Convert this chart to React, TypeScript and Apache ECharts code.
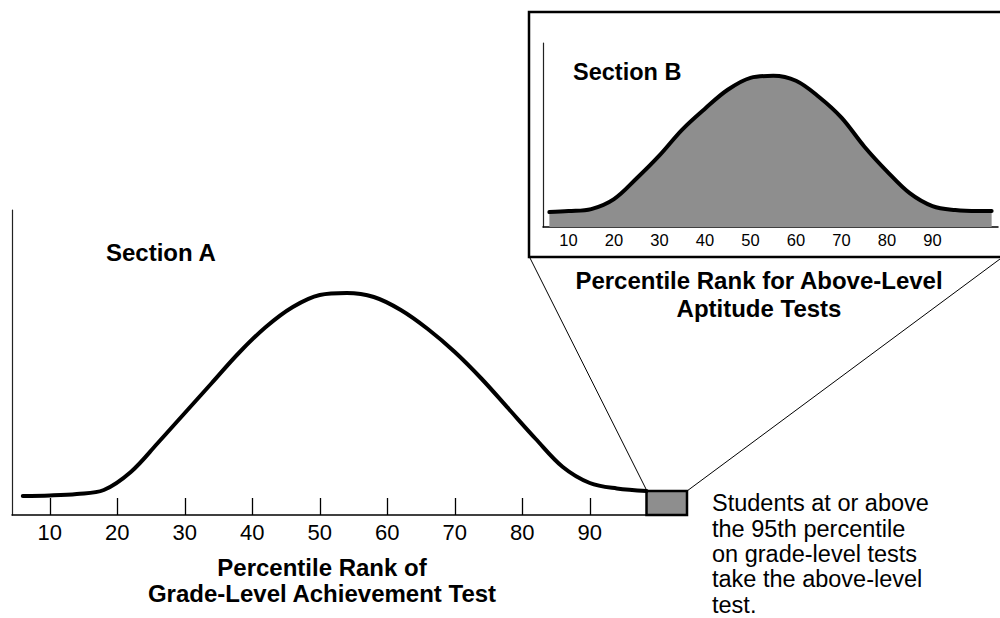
import React, { useEffect, useRef } from "react";
import * as echarts from "echarts";

// Section A: grade-level achievement test distribution (percentile rank vs. relative height)
const mainX = [6, 10, 14, 18, 22, 26, 30, 34, 38, 42, 46, 50, 54, 58, 62, 66, 70, 74, 78, 82, 86, 90, 94, 98.4];
const mainY = [19, 19.5, 21, 25, 43, 72, 102, 132, 162, 188, 208, 220, 222, 218, 205, 186, 163, 136, 106, 76, 48, 32, 26.5, 24];

// Section B: above-level aptitude test distribution
const insetX = [5.8, 10, 15, 20, 25, 30, 35, 40, 45, 50, 55, 60, 65, 70, 75, 80, 85, 90, 95, 100, 103];
const insetY = [15, 16, 18, 28, 49, 72, 98, 119, 138, 150, 152, 147, 131, 110, 81, 56, 34, 21, 17, 16, 16];

// tick labels (both axes)
const tickValues = [10, 20, 30, 40, 50, 60, 70, 80, 90];

// highlighted top segment (students at or above the cut-off)
const boxRange = [98.4, 104.4];
const boxHeight = 24;

const FONT = '"Liberation Sans", Arial, Helvetica, sans-serif';

export default function App() {
  const ref = useRef<HTMLDivElement>(null);

  useEffect(() => {
    if (!ref.current) return;
    const chart = echarts.init(ref.current, null, { renderer: "svg" });

    const mainData = mainX.map((x, i) => [x, mainY[i]]);
    const insetData = insetX.map((x, i) => [x, insetY[i]]);

    chart.setOption({
      animation: false,
      backgroundColor: "#ffffff",
      grid: [
        { left: 12, right: 313, top: 210, bottom: 103 },
        { left: 543, right: 2, top: 43, bottom: 391 },
      ],
      xAxis: [
        {
          type: "value",
          gridIndex: 0,
          min: 4.4,
          max: 104.4,
          splitLine: { show: false },
          axisLine: { show: true, lineStyle: { color: "#000", width: 1.5 } },
          axisTick: {
            show: true,
            inside: true,
            length: 17,
            customValues: tickValues,
            lineStyle: { color: "#000", width: 1.3 },
          },
          axisLabel: {
            show: true,
            customValues: tickValues,
            margin: 6,
            fontSize: 22,
            color: "#000",
            fontFamily: FONT,
          },
        },
        {
          type: "value",
          gridIndex: 1,
          min: 4.4,
          max: 104.4,
          splitLine: { show: false },
          axisLine: { show: true, lineStyle: { color: "#000", width: 1.5 } },
          axisTick: {
            show: true,
            inside: true,
            length: 12,
            customValues: tickValues,
            lineStyle: { color: "#000", width: 1.3 },
          },
          axisLabel: {
            show: true,
            customValues: tickValues,
            margin: 4,
            fontSize: 16.5,
            color: "#000",
            fontFamily: FONT,
          },
        },
      ],
      yAxis: [
        {
          type: "value",
          gridIndex: 0,
          min: 0,
          max: 305,
          splitLine: { show: false },
          axisLine: { show: true, lineStyle: { color: "#222", width: 1.2 } },
          axisTick: { show: false },
          axisLabel: { show: false },
        },
        {
          type: "value",
          gridIndex: 1,
          min: 0,
          max: 185,
          splitLine: { show: false },
          axisLine: { show: true, lineStyle: { color: "#222", width: 1.2 } },
          axisTick: { show: false },
          axisLabel: { show: false },
        },
      ],
      series: [
        {
          type: "line",
          xAxisIndex: 0,
          yAxisIndex: 0,
          data: mainData,
          smooth: 0.35,
          showSymbol: false,
          symbol: "none",
          lineStyle: { color: "#000", width: 4, cap: "round" },
          markArea: {
            silent: true,
            itemStyle: { color: "#8e8e8e", borderColor: "#000", borderWidth: 2.5 },
            data: [[{ xAxis: boxRange[0], yAxis: 0 }, { xAxis: boxRange[1], yAxis: boxHeight }]],
          },
        },
        {
          type: "line",
          xAxisIndex: 1,
          yAxisIndex: 1,
          data: insetData,
          smooth: 0.35,
          showSymbol: false,
          symbol: "none",
          lineStyle: { color: "#000", width: 4, cap: "round" },
          areaStyle: { color: "#8e8e8e", opacity: 1 },
        },
      ],
      graphic: {
        elements: [
          {
            type: "rect",
            z: 50,
            shape: { x: 529, y: 12, width: 490, height: 245 },
            style: { fill: "none", stroke: "#000", lineWidth: 2.5 },
          },
          {
            type: "line",
            z: 50,
            shape: { x1: 530, y1: 258, x2: 647, y2: 491 },
            style: { stroke: "#000", lineWidth: 1 },
          },
          {
            type: "line",
            z: 50,
            shape: { x1: 687, y1: 491, x2: 1000, y2: 259 },
            style: { stroke: "#000", lineWidth: 1 },
          },
          {
            type: "text",
            z: 60,
            x: 106,
            y: 252,
            style: {
              text: "Section A",
              fontSize: 24,
              fontWeight: "bold",
              fontFamily: FONT,
              fill: "#000",
              align: "left",
              verticalAlign: "middle",
            },
          },
          {
            type: "text",
            z: 60,
            x: 573,
            y: 72,
            style: {
              text: "Section B",
              fontSize: 23.5,
              fontWeight: "bold",
              fontFamily: FONT,
              fill: "#000",
              align: "left",
              verticalAlign: "middle",
            },
          },
          {
            type: "text",
            z: 60,
            x: 759,
            y: 294,
            style: {
              text: "Percentile Rank for Above-Level\nAptitude Tests",
              fontSize: 24,
              lineHeight: 28,
              fontWeight: "bold",
              fontFamily: FONT,
              fill: "#000",
              align: "center",
              verticalAlign: "middle",
            },
          },
          {
            type: "text",
            z: 60,
            x: 322,
            y: 580,
            style: {
              text: "Percentile Rank of\nGrade-Level Achievement Test",
              fontSize: 24,
              lineHeight: 26,
              fontWeight: "bold",
              fontFamily: FONT,
              fill: "#000",
              align: "center",
              verticalAlign: "middle",
            },
          },
          {
            type: "text",
            z: 60,
            x: 712,
            y: 554,
            style: {
              text: "Students at or above\nthe 95th percentile\non grade-level tests\ntake the above-level\ntest.",
              fontSize: 23.5,
              lineHeight: 25.3,
              fontFamily: FONT,
              fill: "#000",
              align: "left",
              verticalAlign: "middle",
            },
          },
        ],
      },
    });

    return () => {
      chart.dispose();
    };
  }, []);

  return (
    <div
      ref={ref}
      style={{ position: "fixed", left: 0, top: 0, width: 1000, height: 618, background: "#fff" }}
    />
  );
}
